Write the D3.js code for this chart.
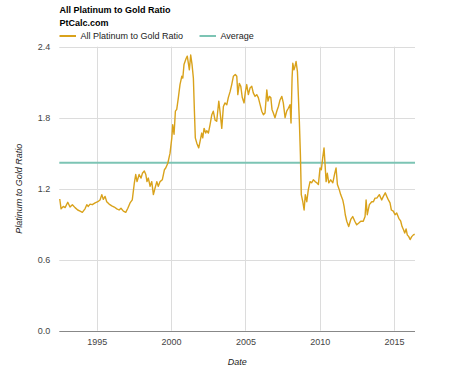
<!DOCTYPE html>
<html>
<head>
<meta charset="utf-8">
<script src="https://cdn.jsdelivr.net/npm/d3@7"></script>
<style>
  html, body { margin: 0; padding: 0; background: #fff; }
  svg { display: block; font-family: "Liberation Sans", Arial, sans-serif; }
</style>
</head>
<body>
<svg id="chart" width="474" height="379"></svg>
<script>
// ---- Data ----
const chartTitle = "All Platinum to Gold Ratio";
const chartSubtitle = "PtCalc.com";
const seriesNames = ["All Platinum to Gold Ratio", "Average"];
const yTickValues = [0.0, 0.6, 1.2, 1.8, 2.4];
const xTickYears = [1995, 2000, 2005, 2010, 2015];
const averageRatio = 1.42;

const dates = [
  1992.51, 1992.60, 1992.75, 1992.87, 1993.05, 1993.20, 1993.36, 1993.54, 1993.72, 1993.88,
  1994.03, 1994.21, 1994.33, 1994.43, 1994.55, 1994.70, 1994.89, 1995.07, 1995.22, 1995.34,
  1995.44, 1995.56, 1995.67, 1995.83, 1996.01, 1996.18, 1996.35, 1996.50, 1996.63, 1996.79,
  1996.95, 1997.09, 1997.24, 1997.39, 1997.53, 1997.62, 1997.71, 1997.85, 1997.98, 1998.07,
  1998.20, 1998.30, 1998.38, 1998.47, 1998.59, 1998.70, 1998.81, 1998.92, 1999.04, 1999.14,
  1999.26, 1999.41, 1999.55, 1999.64, 1999.78, 1999.93, 2000.05, 2000.11, 2000.20, 2000.29,
  2000.38, 2000.49, 2000.60, 2000.72, 2000.79, 2000.87, 2001.01, 2001.09, 2001.23, 2001.32,
  2001.41, 2001.50, 2001.57, 2001.63, 2001.73, 2001.86, 2001.95, 2002.06, 2002.13, 2002.22,
  2002.33, 2002.40, 2002.51, 2002.62, 2002.74, 2002.84, 2002.96, 2003.07, 2003.21, 2003.29,
  2003.41, 2003.52, 2003.63, 2003.75, 2003.85, 2003.97, 2004.08, 2004.19, 2004.32, 2004.42,
  2004.49, 2004.59, 2004.69, 2004.79, 2004.91, 2005.00, 2005.09, 2005.20, 2005.31, 2005.43,
  2005.53, 2005.65, 2005.76, 2005.87, 2005.99, 2006.10, 2006.21, 2006.32, 2006.44, 2006.52,
  2006.61, 2006.71, 2006.79, 2006.88, 2006.99, 2007.11, 2007.22, 2007.33, 2007.45, 2007.55,
  2007.67, 2007.78, 2007.89, 2008.00, 2008.07, 2008.14, 2008.19, 2008.27, 2008.34, 2008.41,
  2008.50, 2008.56, 2008.63, 2008.70, 2008.76, 2008.86, 2008.95, 2009.03, 2009.13, 2009.23,
  2009.35, 2009.46, 2009.57, 2009.69, 2009.80, 2009.91, 2010.02, 2010.11, 2010.20, 2010.29,
  2010.43, 2010.51, 2010.61, 2010.74, 2010.88, 2011.01, 2011.10, 2011.19, 2011.32, 2011.41,
  2011.55, 2011.64, 2011.72, 2011.82, 2011.95, 2012.09, 2012.22, 2012.36, 2012.49, 2012.63,
  2012.76, 2012.93, 2013.05, 2013.12, 2013.20, 2013.34, 2013.50, 2013.61, 2013.72, 2013.84,
  2014.01, 2014.17, 2014.28, 2014.41, 2014.51, 2014.62, 2014.73, 2014.82, 2014.95, 2015.07,
  2015.18, 2015.32, 2015.45, 2015.54, 2015.63, 2015.72, 2015.81, 2015.89, 2015.99, 2016.08,
  2016.19, 2016.30, 2016.39
];

const ratios = [
  1.113, 1.03, 1.05, 1.04, 1.085, 1.045, 1.065, 1.04, 1.02, 1.01,
  1.00, 1.03, 1.065, 1.05, 1.07, 1.065, 1.08, 1.09, 1.105, 1.15,
  1.11, 1.135, 1.09, 1.07, 1.055, 1.045, 1.03, 1.02, 1.035, 1.01,
  1.00, 1.035, 1.08, 1.105, 1.25, 1.32, 1.26, 1.32, 1.29, 1.33,
  1.35, 1.32, 1.26, 1.29, 1.22, 1.26, 1.15, 1.205, 1.26, 1.22,
  1.26, 1.275, 1.36, 1.375, 1.415, 1.50, 1.63, 1.74, 1.66, 1.855,
  1.87, 1.97, 2.08, 2.15, 2.135, 2.25, 2.30, 2.32, 2.205, 2.33,
  2.25, 2.135, 1.855, 1.63, 1.585, 1.545, 1.60, 1.67, 1.63, 1.71,
  1.67, 1.69, 1.67, 1.74, 1.825, 1.855, 1.78, 1.77, 1.94, 1.855,
  1.71, 1.895, 1.925, 1.91, 1.97, 2.02, 2.08, 2.15, 2.165, 2.15,
  1.995, 2.09, 2.065, 1.97, 1.925, 2.02, 2.08, 1.995, 2.05, 2.065,
  2.01, 1.98, 1.995, 1.97, 1.91, 1.855, 1.825, 1.84, 2.035, 1.94,
  1.98, 1.97, 1.87, 1.84, 1.80, 1.855, 1.895, 1.95, 1.98, 1.925,
  1.80, 1.855, 1.88, 1.91, 1.755, 2.135, 2.26, 2.205, 2.235, 2.275,
  2.19, 1.995, 1.77, 1.49, 1.15, 1.09, 1.02, 1.15, 1.09, 1.19,
  1.26, 1.25, 1.275, 1.26, 1.25, 1.235, 1.375, 1.36, 1.46, 1.545,
  1.26, 1.33, 1.25, 1.275, 1.25, 1.33, 1.375, 1.235, 1.19, 1.15,
  1.105, 1.05, 0.98, 0.925, 0.88, 0.94, 0.965, 0.925, 0.895, 0.91,
  0.925, 0.925, 0.965, 1.105, 0.98, 1.065, 1.09, 1.09, 1.12, 1.12,
  1.15, 1.105, 1.135, 1.165, 1.135, 1.105, 1.08, 1.02, 1.01, 0.98,
  0.995, 0.95, 0.925, 0.88, 0.855, 0.825, 0.86, 0.81, 0.795, 0.77,
  0.795, 0.81, 0.815
];

// ---- Layout ----
const svg = d3.select("#chart");
const plot = { left: 59.3, right: 415, top: 46.7, bottom: 330.7 };
const goldColor = "#d9a21b";
const avgColor = "#7cc4b4";

const x = d3.scaleLinear().domain([1992.48, 2016.41]).range([plot.left, plot.right]);
const y = d3.scaleLinear().domain([0, 2.4]).range([plot.bottom, plot.top]);

// Gridlines
const grid = svg.append("g");
grid.selectAll("line.h").data(yTickValues.filter(v => v > 0)).join("line")
  .attr("x1", plot.left).attr("x2", plot.right)
  .attr("y1", d => Math.round(y(d)) + 0.5).attr("y2", d => Math.round(y(d)) + 0.5)
  .attr("stroke", "#dcdcdc").attr("stroke-width", 1);
grid.selectAll("line.v").data(xTickYears).join("line")
  .attr("x1", d => Math.round(x(d)) + 0.5).attr("x2", d => Math.round(x(d)) + 0.5)
  .attr("y1", plot.top).attr("y2", plot.bottom)
  .attr("stroke", "#dcdcdc").attr("stroke-width", 1);

// Y axis (labels only)
const yAxis = d3.axisLeft(y).tickValues(yTickValues).tickFormat(d3.format(".1f")).tickSize(0).tickPadding(9);
const gy = svg.append("g").attr("transform", `translate(${plot.left},0)`).call(yAxis);
gy.select(".domain").remove();
gy.selectAll("text").attr("font-size", 9).attr("fill", "#444").attr("font-family", "Liberation Sans, Arial, sans-serif");

// X axis
const xAxis = d3.axisBottom(x).tickValues(xTickYears).tickFormat(d3.format("d")).tickSize(0).tickPadding(8);
const gx = svg.append("g").attr("transform", `translate(0,${plot.bottom})`).call(xAxis);
gx.select(".domain").remove();
gx.selectAll("text").attr("font-size", 9).attr("fill", "#444").attr("font-family", "Liberation Sans, Arial, sans-serif");

// Baseline
svg.append("line")
  .attr("x1", plot.left).attr("x2", plot.right)
  .attr("y1", Math.round(y(0)) + 0.5).attr("y2", Math.round(y(0)) + 0.5)
  .attr("stroke", "#888").attr("stroke-width", 1);

// Average line
svg.append("line")
  .attr("x1", plot.left).attr("x2", plot.right)
  .attr("y1", y(averageRatio)).attr("y2", y(averageRatio))
  .attr("stroke", avgColor).attr("stroke-width", 2);

// Ratio line
const pts = dates.map((d, i) => [d, ratios[i]]);
svg.append("path")
  .datum(pts)
  .attr("fill", "none")
  .attr("stroke", goldColor)
  .attr("stroke-width", 1.4)
  .attr("stroke-linejoin", "round")
  .attr("d", d3.line().x(d => x(d[0])).y(d => y(d[1])));

// Titles
svg.append("text").attr("x", 59.5).attr("y", 13.3)
  .attr("font-size", 9).attr("font-weight", "bold").attr("fill", "#000")
  .text(chartTitle);
svg.append("text").attr("x", 59.5).attr("y", 25.5)
  .attr("font-size", 9).attr("font-weight", "bold").attr("fill", "#000")
  .text(chartSubtitle);

// Legend
const legend = svg.append("g");
const legendItems = [
  { name: seriesNames[0], color: goldColor, x0: 59.5, w: 1.5 },
  { name: seriesNames[1], color: avgColor, x0: 199.5, w: 1.5 }
];
legendItems.forEach(it => {
  legend.append("line").attr("x1", it.x0).attr("x2", it.x0 + 16.5)
    .attr("y1", 36).attr("y2", 36).attr("stroke", it.color).attr("stroke-width", 2);
  legend.append("text").attr("x", it.x0 + 21).attr("y", 39.3)
    .attr("font-size", 9).attr("fill", "#222").text(it.name);
});

// Axis titles
svg.append("text")
  .attr("transform", `translate(22,${(plot.top + plot.bottom) / 2}) rotate(-90)`)
  .attr("text-anchor", "middle").attr("font-size", 9).attr("font-style", "italic").attr("fill", "#222")
  .text("Platinum to Gold Ratio");
svg.append("text")
  .attr("x", (plot.left + plot.right) / 2).attr("y", 365)
  .attr("text-anchor", "middle").attr("font-size", 9).attr("font-style", "italic").attr("fill", "#222")
  .text("Date");
</script>
</body>
</html>
